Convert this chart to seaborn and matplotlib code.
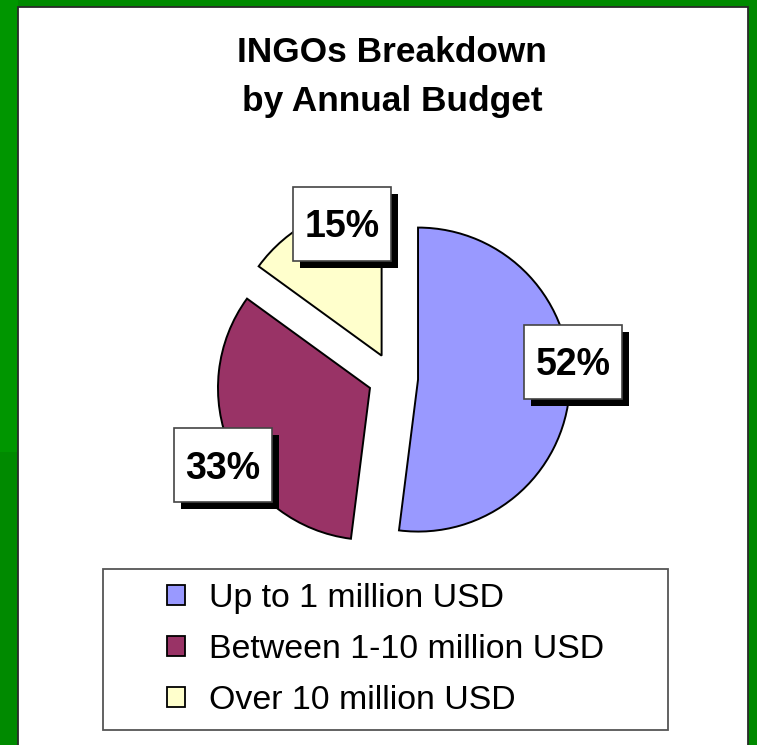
import matplotlib
matplotlib.use('Agg')
import matplotlib.pyplot as plt
import seaborn as sns
from matplotlib.patches import Rectangle
import numpy as np

# ---- data ----
categories = ["Up to 1 million USD", "Between 1-10 million USD", "Over 10 million USD"]
shares = [52, 33, 15]
pct_labels = ["52%", "33%", "15%"]
title_lines = ["INGOs Breakdown", "by Annual Budget"]

# ---- style ----
sns.set_style('white')
plt.rcParams['font.family'] = ['Liberation Sans', 'DejaVu Sans']
plt.rcParams['text.color'] = 'black'
colors = sns.color_palette(['#9999FF', '#993366', '#FFFFCC'])

W, H = 757, 745
fig = plt.figure(figsize=(W / 100, H / 100), dpi=100)
fig.patch.set_facecolor('#008A00')


def fx(px):
    return px / W


def fy(py):
    return 1 - py / H


# slightly brighter band on the upper left of the green frame
fig.patches.append(Rectangle((0, fy(452)), fx(18), fy(0) - fy(452) + 0.01,
                             transform=fig.transFigure, facecolor='#009600',
                             edgecolor='none', zorder=-6))
# white slide panel with dark edge
fig.patches.append(Rectangle((fx(18), fy(760)), fx(748) - fx(18), fy(7) - fy(760),
                             transform=fig.transFigure, facecolor='white',
                             edgecolor='#2a2a2a', lw=1.3, zorder=-5))

# title
fig.text(fx(392), fy(62), title_lines[0], ha='center', va='baseline',
         fontsize=25.4, fontweight='bold', color='black')
fig.text(fx(392), fy(111), title_lines[1], ha='center', va='baseline',
         fontsize=25.4, fontweight='bold', color='black')

# pie axes: 1 data unit = 152 px, centre at (393, 378)
R = 152.0
cxp, cyp = 393, 378
ax = fig.add_axes([fx(cxp - 2 * R), fy(cyp + 2 * R), 4 * R / W, 4 * R / H])
ax.set_zorder(2)
wedges, _ = ax.pie(shares, colors=colors, explode=[0.165] * 3, startangle=90,
                   counterclock=False, radius=1,
                   wedgeprops=dict(edgecolor='black', linewidth=1.4))
ax.set_xlim(-2, 2)
ax.set_ylim(-2, 2)
ax.set_aspect('auto')
ax.axis('off')

# label placement (radius, angle in degrees) around the pie centre
label_polar = [(1.19, 5.1), (1.26, 207.1), (1.07, 108.3)]
bw, bh = 98 / R, 74 / R
sh = 7 / R
for (r, a), lab in zip(label_polar, pct_labels):
    x = r * np.cos(np.radians(a))
    y = r * np.sin(np.radians(a))
    ax.add_patch(Rectangle((x - bw / 2 + sh, y - bh / 2 - sh), bw, bh,
                           facecolor='black', edgecolor='none', zorder=5))
    ax.add_patch(Rectangle((x - bw / 2, y - bh / 2), bw, bh,
                           facecolor='white', edgecolor='#444444', lw=1.2, zorder=6))
    ax.text(x, y - 13.5 / R, lab, ha='center', va='baseline', fontsize=27,
            fontweight='bold', color='black', zorder=7)

# legend
fig.patches.append(Rectangle((fx(103), fy(730)), (668 - 103) / W, (730 - 569) / H,
                             transform=fig.transFigure, facecolor='white',
                             edgecolor='#555555', lw=1.3, zorder=1))
handles = [Rectangle((0, 0), 1, 1, facecolor=c, edgecolor='black', lw=1.3) for c in colors]
leg = fig.legend(handles, categories, loc='center',
                 bbox_to_anchor=(fx(385.5), fy(649.5)), frameon=False,
                 fontsize=24.4, handlelength=0.53, handleheight=0.53,
                 handletextpad=0.73, labelspacing=0.58, borderpad=0,
                 labelcolor='black')
leg.set_zorder(3)

fig.savefig('out.png', dpi=100, facecolor=fig.get_facecolor())
